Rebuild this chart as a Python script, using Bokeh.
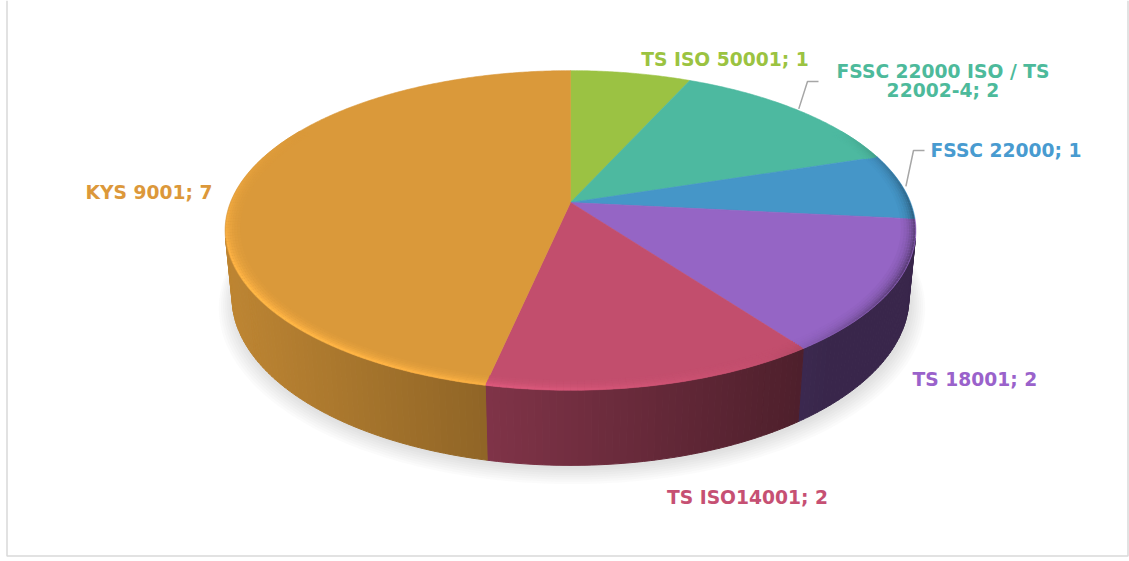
import numpy as np
from bokeh.plotting import figure
from bokeh.models import Range1d
from bokeh.embed import file_html
from bokeh.resources import INLINE
from bokeh.core.properties import value

# ---------------- data ----------------
categories = ["TS ISO 50001", "FSSC 22000 ISO / TS 22002-4", "FSSC 22000",
              "TS 18001", "TS ISO14001", "KYS 9001"]
counts = [1, 2, 1, 2, 2, 7]
label_lines = [["TS ISO 50001; 1"], ["FSSC 22000 ISO / TS", "22002-4; 2"],
               ["FSSC 22000; 1"], ["TS 18001; 2"], ["TS ISO14001; 2"], ["KYS 9001; 7"]]

# ---------------- style / layout ----------------
top_colors = [(155, 194, 67), (77, 185, 160), (69, 150, 200),
              (149, 101, 197), (194, 78, 109), (218, 153, 58)]
label_colors = ["#9BC341", "#4DBA9B", "#489BD0", "#9A62CB", "#C65073", "#DC983A"]
# label anchor (x, baseline y, align)
label_pos = [(724.5, 59, "center"), (942.5, 71, "center"), (930, 150, "left"),
             (912, 379, "left"), (747, 497, "center"), (212, 192, "right")]
leader = [None, (807, 81, 818), (913, 150, 924), None, None, None]
LINE_H = 19

W, H_FIG = 1129, 561
CX, CY = 570.0, 202.0
FOC = 1731.0
DIST = 5.09
PHI = np.radians(27.1)
DEPTH = 0.222
S, C = np.sin(PHI), np.cos(PHI)


def project(theta_deg, r=1.0, z=0.0):
    th = np.radians(theta_deg)
    X = r * np.sin(th)
    Y = -r * np.cos(th)
    den = DIST - Y * C - z * S
    return CX + FOC * X / den, CY + FOC * (Y * S - z * C) / den


def hexc(rgb):
    r, g, b = [int(max(0, min(255, round(v)))) for v in rgb]
    return "#%02x%02x%02x" % (r, g, b)


p = figure(width=W, height=H_FIG, x_range=Range1d(0, W), y_range=Range1d(H_FIG, 0),
           output_backend="svg", toolbar_location=None, x_axis_type=None, y_axis_type=None,
           min_border=0, outline_line_color=None)
p.grid.visible = False
p.background_fill_color = "white"

total = sum(counts)
cum = np.cumsum([0] + counts)
starts = cum[:-1] / total * 360.0
ends = cum[1:] / total * 360.0

# ---------------- shadow ----------------
ang = np.linspace(0, 360, 361)
for k in range(8):
    r = 1.0 + 0.006 * k
    sx, sy = project(ang, r=r, z=-DEPTH)
    p.patch(sx + 1.5, sy + 3 + 0.8 * k, fill_color="#808080", fill_alpha=0.035, line_color=None)

# ---------------- side strips ----------------
tmin = np.degrees(np.arcsin(1.0 / (DIST * C)))
vis_a, vis_b = 90 + tmin, 270 - tmin
xs, ys, cols = [], [], []
for i in range(len(counts)):
    a = max(starts[i], vis_a)
    b = min(ends[i], vis_b)
    if b <= a:
        continue
    n = max(2, int(np.ceil((b - a) / 1.0)))
    edges = np.linspace(a, b, n + 1)
    for j in range(n):
        e0, e1 = edges[j], edges[j + 1]
        sub = np.linspace(e0, e1, 3)
        tx, ty = project(sub, 1.0, 0.0)
        bx, by = project(sub[::-1], 1.0, -DEPTH)
        u = (np.mean(tx) - CX) / 345.0
        f = max(0.38, 0.87 - 0.28 * (u + 1))
        col = hexc([c * f for c in top_colors[i]])
        xs.append(list(tx) + list(bx))
        ys.append(list(ty) + list(by))
        cols.append(col)
p.patches(xs, ys, fill_color=cols, line_color=cols, line_width=1)

# ---------------- top faces ----------------
txs, tys, tcols = [], [], []
for i in range(len(counts)):
    arc = np.linspace(starts[i], ends[i], max(4, int((ends[i] - starts[i]) * 2)))
    ax, ay = project(arc, 1.0, 0.0)
    txs.append([CX] + list(ax))
    tys.append([CY] + list(ay))
    tcols.append(hexc(top_colors[i]))
p.patches(txs, tys, fill_color=tcols, line_color=tcols, line_width=0.6)

# ---------------- bevel rim (soft gradient towards the edge) ----------------
for r, lw, strength in [(0.962, 3, 0.08), (0.970, 3, 0.18), (0.978, 3, 0.32),
                        (0.985, 3, 0.5), (0.991, 2.5, 0.72), (0.996, 2, 1.0)]:
    mxs, mys, mcols = [], [], []
    for i in range(len(counts)):
        n = max(2, int(np.ceil(ends[i] - starts[i])))
        edges = np.linspace(starts[i], ends[i], n + 1)
        for j in range(n):
            mid = 0.5 * (edges[j] + edges[j + 1])
            w = min(1.0, max(0.0, 0.5 - np.cos(np.radians(mid))))
            if w <= 0:
                continue
            L = np.cos(np.radians(mid - 240))
            if L > 0:
                fac = 1 + 0.2 * L * w * strength
            else:
                fac = 1 + 0.7 * L * w * strength
            seg = np.array([edges[j], edges[j + 1]])
            sx, sy = project(seg, r, 0.0)
            mxs.append(list(sx))
            mys.append(list(sy))
            mcols.append(hexc([c * fac for c in top_colors[i]]))
    p.multi_line(mxs, mys, line_color=mcols, line_width=lw, line_alpha=1.0)

# ---------------- leader lines ----------------
for i in range(len(counts)):
    if leader[i] is None:
        continue
    mid = 0.5 * (starts[i] + ends[i])
    sx, sy = project(mid, 1.01, 0.0)
    ex, ey, hx = leader[i]
    p.line([sx, ex, hx], [sy, ey, ey], line_color="#A6A6A6", line_width=1.5)

# ---------------- labels ----------------
for i in range(len(counts)):
    x0, y0, al = label_pos[i]
    for k, txt in enumerate(label_lines[i]):
        p.text(x=[x0], y=[y0 + k * LINE_H], text=[txt], text_color=label_colors[i],
               text_font=value("DejaVu Sans"), text_font_style="bold",
               text_font_size="18.7px", text_align=al, text_baseline="alphabetic")

# ---------------- frame ----------------
p.line([6.5, 6.5, 1127.5, 1127.5], [0, 555.5, 555.5, 0], line_color="#D9D9D9", line_width=1.5)

open("out.html", "w").write(file_html(p, INLINE))
